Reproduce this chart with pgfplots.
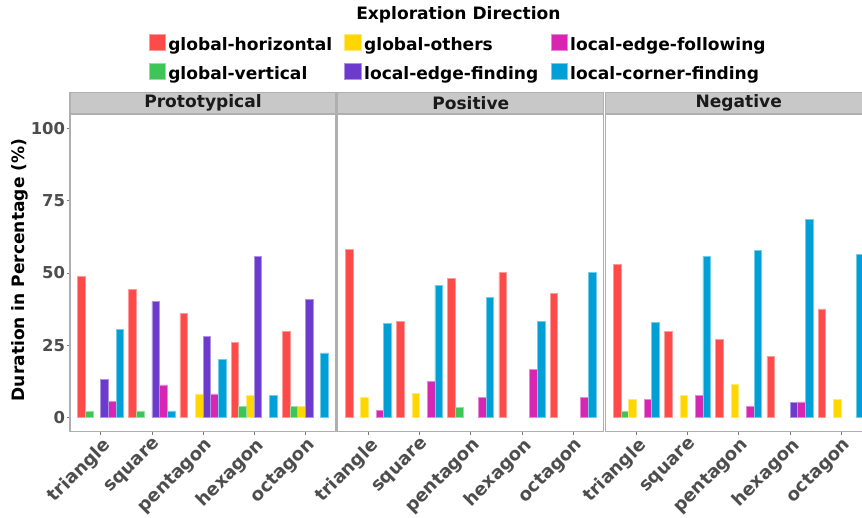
\documentclass[border=0pt]{standalone}
\usepackage{pgfplots}
\pgfplotsset{compat=1.18}
\usepackage{fontspec}
\setmainfont{DejaVu Sans}
\definecolor{cGH}{RGB}{255,74,74}
\definecolor{cGV}{RGB}{64,196,88}
\definecolor{cGO}{RGB}{255,214,0}
\definecolor{cLEFi}{RGB}{108,58,204}
\definecolor{cLEFo}{RGB}{214,38,178}
\definecolor{cLCF}{RGB}{0,160,214}
\definecolor{bordergray}{RGB}{175,175,175}
\definecolor{stripgray}{RGB}{200,200,200}
\definecolor{tickgray}{RGB}{77,77,77}
\definecolor{tickmark}{RGB}{120,120,120}
\definecolor{striptext}{RGB}{26,26,26}

\pgfplotsset{
  facet/.style={
    scale only axis, width=199.5pt, height=238.3pt,
    xmin=0.4, xmax=5.6, ymin=-5, ymax=105,
    ybar, bar width=0.15,
    xtick={1,2,3,4,5},
    xticklabels={triangle,square,pentagon,hexagon,octagon},
    ytick={0,25,50,75,100},
    tick align=outside, tick pos=left,
    major tick length=2.5pt,
    tick style={draw=tickmark, line width=0.5pt},
    axis line style={draw=bordergray, line width=0.8pt},
    /pgf/number format/assume math mode=true,
    xticklabel style={font=\fontsize{13.5}{16}\selectfont\bfseries, text=tickgray,
      rotate=45, anchor=north east, inner sep=0pt, yshift=-1pt},
    yticklabel style={font=\fontsize{12.3}{14}\selectfont\bfseries, text=tickgray,
      inner sep=0pt, xshift=-1pt},
    clip=false,
  },
  lgd/.style={legend image code/.code={%
      \draw[##1] (0pt,-3.8pt) rectangle (12.5pt,8.2pt);}},
  sGH/.style={fill=cGH, draw=cGH!55!white, line width=0.5pt, bar shift=-0.375, lgd},
  sGV/.style={fill=cGV, draw=cGV!55!white, line width=0.5pt, bar shift=-0.225, lgd},
  sGO/.style={fill=cGO, draw=cGO!55!white, line width=0.5pt, bar shift=-0.075, lgd},
  sLEFi/.style={fill=cLEFi, draw=cLEFi!55!white, line width=0.5pt, bar shift=0.075, lgd},
  sLEFo/.style={fill=cLEFo, draw=cLEFo!55!white, line width=0.5pt, bar shift=0.225, lgd},
  sLCF/.style={fill=cLCF, draw=cLCF!55!white, line width=0.5pt, bar shift=0.375, lgd},
}

\begin{document}
\begin{tikzpicture}
\useasboundingbox (0,0) rectangle (646.5pt,-387.75pt);

% ---------------- Prototypical ----------------
\begin{axis}[facet, at={(52.5pt,-323.8pt)}, anchor=south west,
  legend columns=3,
  legend cell align=left,
  legend style={at={(0.2942,1.2539)}, anchor=north west, draw=none, fill=none,
    inner sep=0pt, nodes={inner sep=0pt},
    font=\fontsize{12.8}{15}\selectfont\bfseries, row sep=8pt,
    /tikz/every odd column/.append style={column sep=1.8pt},
    /tikz/every even column/.append style={column sep=9.2pt}},
]
\addplot[sGH] coordinates {(1,48.9)(2,44.4)(3,35.9)(4,26.0)(5,29.6)};
\addlegendentry{global-horizontal}
\addplot[sGO] coordinates {(3,8.1)(4,7.6)(5,3.7)};
\addlegendentry{global-others}
\addplot[sLEFo] coordinates {(1,5.6)(2,11.2)(3,8.1)};
\addlegendentry{local-edge-following}
\addplot[sGV] coordinates {(1,2.0)(2,2.2)(4,3.7)(5,3.7)};
\addlegendentry{global-vertical}
\addplot[sLEFi] coordinates {(1,13.2)(2,40.0)(3,28.0)(4,55.6)(5,40.7)};
\addlegendentry{local-edge-finding}
\addplot[sLCF] coordinates {(1,30.4)(2,2.2)(3,20.0)(4,7.6)(5,22.3)};
\addlegendentry{local-corner-finding}
\end{axis}

% ---------------- Positive ----------------
\begin{axis}[facet, at={(253.3pt,-323.8pt)}, anchor=south west,
  ytick=\empty]
\addplot[sGH] coordinates {(1,58.1)(2,33.3)(3,48.2)(4,50.1)(5,42.8)};
\addplot[sGV] coordinates {(3,3.3)};
\addplot[sGO] coordinates {(1,6.9)(2,8.3)};
\addplot[sLEFo] coordinates {(1,2.3)(2,12.5)(3,6.9)(4,16.7)(5,7.0)};
\addplot[sLCF] coordinates {(1,32.5)(2,45.8)(3,41.4)(4,33.3)(5,50.1)};
\end{axis}

% ---------------- Negative ----------------
\begin{axis}[facet, at={(454.3pt,-323.8pt)}, anchor=south west,
  ytick=\empty]
\addplot[sGH] coordinates {(1,53.0)(2,29.6)(3,26.9)(4,21.1)(5,37.5)};
\addplot[sGV] coordinates {(1,2.0)};
\addplot[sGO] coordinates {(1,6.2)(2,7.5)(3,11.5)(5,6.2)};
\addplot[sLEFi] coordinates {(4,5.3)};
\addplot[sLEFo] coordinates {(1,6.2)(2,7.5)(3,3.9)(4,5.3)};
\addplot[sLCF] coordinates {(1,32.8)(2,55.6)(3,57.7)(4,68.4)(5,56.3)};
\end{axis}

% strips
\foreach \xa/\lab [evaluate=\xa as \xb using \xa+199.5,
                   evaluate=\xa as \xc using \xa+99.75] in
    {52.5/Prototypical, 253.3/Positive, 454.3/Negative}{
  \draw[fill=stripgray, draw=bordergray, line width=0.8pt]
    (\xa pt,-69.2pt) rectangle (\xb pt,-85.5pt);
  \node[font=\fontsize{12.8}{15}\selectfont\bfseries, text=striptext, inner sep=0pt]
    at (\xc pt,-77.4pt) {\lab};
}

% y label
\node[rotate=90, font=\fontsize{12.8}{15}\selectfont\bfseries, inner sep=0pt]
  at (15pt,-202.5pt) {Duration in Percentage (\%)};

% legend title
\node[font=\fontsize{12.8}{15}\selectfont\bfseries, inner sep=0pt, anchor=base]
  at (343.8pt,-14.6pt) {Exploration Direction};
\end{tikzpicture}
\end{document}
